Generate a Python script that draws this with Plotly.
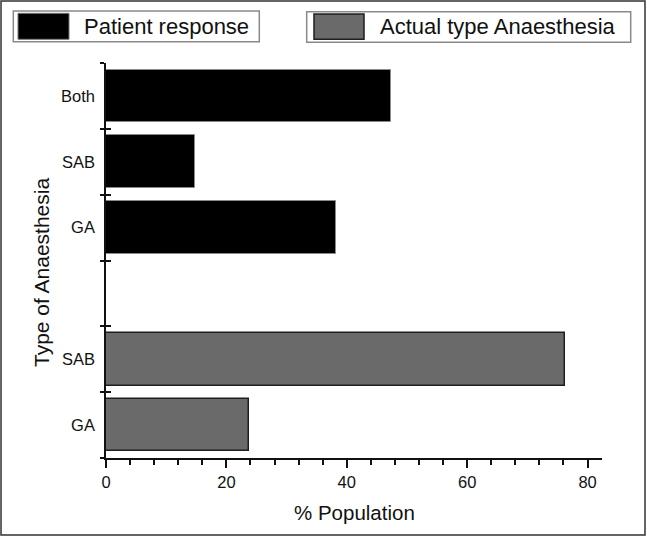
import plotly.graph_objects as go

# ---- data (rows listed bottom to top) ----
row_labels = ["GA", "SAB", "", "GA", "SAB", "Both"]
actual_labels = ["GA", "SAB"]
actual_values = [23.8, 76.2]
patient_labels = ["GA", "SAB", "Both"]
patient_values = [38.2, 14.8, 47.3]
x_tick_values = [0, 20, 40, 60, 80]
series_names = ["Patient response", "Actual type Anaesthesia"]
x_title = "% Population"
y_title = "Type of Anaesthesia"

FONT = "Liberation Sans, Arial, sans-serif"
W, H = 647, 537
L, R, T, B = 106, 45, 63, 79
PW, PH = W - L - R, H - T - B

def px(x):
    return (x - L) / PW

def py(y):
    return (H - B - y) / PH

actual_pos = list(range(len(actual_labels)))
patient_pos = [len(actual_labels) + 1 + i for i in range(len(patient_labels))]
row_pos = list(range(len(row_labels)))
boundaries = [p - 0.5 for p in row_pos] + [row_pos[-1] + 0.5]

fig = go.Figure()
fig.add_trace(go.Bar(
    x=patient_values, y=patient_pos, orientation="h", width=0.8,
    name=series_names[0], showlegend=False,
    marker=dict(color="#000000", line=dict(color="#8a8a8a", width=1)),
))
fig.add_trace(go.Bar(
    x=actual_values, y=actual_pos, orientation="h", width=0.8,
    name=series_names[1], showlegend=False,
    marker=dict(color="#6a6a6a", line=dict(color="#1e1e1e", width=1.5)),
))
# invisible helper trace so the inside-tick overlay axis is drawn
fig.add_trace(go.Scatter(x=[None], y=[None], yaxis="y2", showlegend=False,
                         hoverinfo="skip"))

fig.update_layout(
    width=W, height=H,
    margin=dict(l=L, r=R, t=T, b=B),
    paper_bgcolor="white", plot_bgcolor="white",
    font=dict(family=FONT, color="#111111"),
    bargap=0,
    xaxis=dict(
        range=[0, 82.4], tickvals=x_tick_values, ticks="outside",
        ticklen=8, tickwidth=1.5, tickcolor="#111",
        tickfont=dict(size=16.5, family=FONT, color="#111"),
        showline=True, linecolor="#111", linewidth=1.5,
        showgrid=False, zeroline=False,
        minor=dict(dtick=4, tick0=0, ticks="outside", ticklen=5,
                   tickwidth=1.5, tickcolor="#111", showgrid=False),
        anchor="y",
    ),
    yaxis=dict(
        range=[boundaries[0], boundaries[-1]],
        tickvals=row_pos, ticktext=row_labels,
        ticks="outside", ticklen=0, ticklabelstandoff=6,
        tickfont=dict(size=16.5, family=FONT, color="#111"),
        showline=True, linecolor="#111", linewidth=1.5,
        showgrid=False, zeroline=False,
        minor=dict(tickvals=boundaries, ticks="outside", ticklen=4,
                   tickwidth=1.5, tickcolor="#111", showgrid=False),
    ),
    yaxis2=dict(
        overlaying="y", side="left", anchor="x",
        range=[boundaries[0], boundaries[-1]],
        tickvals=boundaries, ticks="inside", ticklen=5, tickwidth=1.5,
        tickcolor="#111", showticklabels=False, showline=False,
        showgrid=False, zeroline=False,
    ),
)

shapes = []
# outer frame
shapes.append(dict(type="rect", xref="paper", yref="paper",
                   x0=px(1), x1=px(645), y0=py(1), y1=py(535),
                   line=dict(color="#333", width=1.5), fillcolor="rgba(0,0,0,0)",
                   layer="below"))
# legend boxes
legend_boxes = [
    dict(box=(13.3, 11, 259.3, 41.7), sw=(18, 13.3, 69, 39.3), tx=82,
         fill="#000000", edge="#777", ew=1),
    dict(box=(306.7, 11.7, 630.7, 42.3), sw=(314, 14, 364, 39.3), tx=377.5,
         fill="#6a6a6a", edge="#1e1e1e", ew=1.5),
]
annotations = []
for name, lb in zip(series_names, legend_boxes):
    bx0, by0, bx1, by1 = lb["box"]
    shapes.append(dict(type="rect", xref="paper", yref="paper",
                       x0=px(bx0), x1=px(bx1), y0=py(by0), y1=py(by1),
                       line=dict(color="#8a8a8a", width=1.5), fillcolor="white"))
    sx0, sy0, sx1, sy1 = lb["sw"]
    shapes.append(dict(type="rect", xref="paper", yref="paper",
                       x0=px(sx0), x1=px(sx1), y0=py(sy0), y1=py(sy1),
                       line=dict(color=lb["edge"], width=lb["ew"]),
                       fillcolor=lb["fill"]))
    annotations.append(dict(text=name, xref="paper", yref="paper",
                            x=px(lb["tx"]), y=py((by0 + by1) / 2),
                            xanchor="left", yanchor="middle", showarrow=False,
                            font=dict(size=22, family=FONT, color="#111")))

annotations.append(dict(text=x_title, xref="paper", yref="paper",
                        x=0.5, y=py(512), xanchor="center", yanchor="middle",
                        showarrow=False,
                        font=dict(size=20.5, family=FONT, color="#111")))
annotations.append(dict(text=y_title, xref="paper", yref="paper",
                        x=px(41.5), y=py(272.5), xanchor="center",
                        yanchor="middle", textangle=-90, showarrow=False,
                        font=dict(size=21, family=FONT, color="#111")))

fig.update_layout(shapes=shapes, annotations=annotations)
fig.write_html("out.html",
               config={"displayModeBar": False},
               post_script="document.body.style.margin='0';")
